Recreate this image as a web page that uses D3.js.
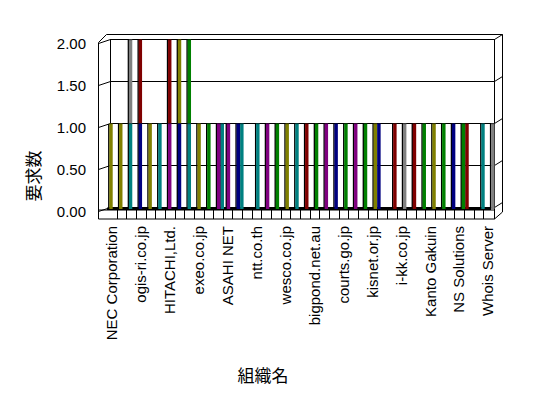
<!DOCTYPE html>
<html><head><meta charset="utf-8">
<script src="https://cdn.jsdelivr.net/npm/d3@7"></script>
<style>
html,body{margin:0;padding:0;background:#fff;}
svg{display:block;}
text{font-family:"Liberation Sans",Arial,sans-serif;fill:#000;}
.cjk{font-family:"Noto Sans CJK JP","Noto Sans",sans-serif;}
</style></head>
<body>
<svg id="chart" width="548" height="398"></svg>
<script>
// ---- data ----
const categories = ["NEC Corporation","","","ogis-ri.co.jp","","","HITACHI,Ltd.","","","exeo.co.jp","","","ASAHI NET","","","ntt.co.th","","","wesco.co.jp","","","bigpond.net.au","","","courts.go.jp","","","kisnet.or.jp","","","i-kk.co.jp","","","Kanto Gakuin","","","NS Solutions","","","Whois Server"];
const yTicks = [0, 0.5, 1, 1.5, 2];
const yTitle = "要求数";
const xTitle = "組織名";
// series keys per bar (index into palette)
const baseValues  = [1,1,1,1,1,1,1,1,1,1,1,1,1,1,0,1,1,1,1,1,1,1,1,1,1,1,1,1,0,1,1,1,1,1,1,1,1,0,1,1];
const baseSeries  = ["olive","olive","teal","navy","olive","teal","purple","navy","teal","olive","green","purple","purple","navy","","teal","purple","green","olive","teal","maroon","green","purple","navy","green","purple","green","olive","","maroon","gray","maroon","green","olive","green","navy","green","","teal","gray"];
const stackValues = [0,0,1,1,0,0,1,1,1,0,0,0,0,0,0,0,0,0,0,0,0,0,0,0,0,0,0,0,0,0,0,0,0,0,0,0,0,0,0,0];
const stackSeries = ["","","gray","maroon","","","maroon","olive","green","","","","","","","","","","","","","","","","","","","","","","","","","","","","","","",""];
const sideValues  = [0,0,0,0,0,0,0,0,0,0,0,1,0,1,0,0,0,0,0,0,0,0,0,0,0,0,0,1,0,0,0,0,0,0,0,0,1,0,0,0];
const sideSeries  = ["","","","","","","","","","","","teal","","teal","","","","","","","","","","","","","","navy","","","","","","","","","maroon","","",""];

// ---- styles ----
const palette = {olive:"#808000", teal:"#008080", navy:"#000080", purple:"#800080", green:"#008000", maroon:"#800000", gray:"#808080"};

const svg = d3.select("#chart");
const idx = d3.range(categories.length);
const y = d3.scaleLinear().domain([0, 2]).range([207.5, 39.5]);
const xCell = d3.scaleBand().domain(idx).range([107, 493]);
const xBar = d3.scalePoint().domain(idx).range([110.5, 492.3]);

const frontL = 98.5, backL = 110.5, frontR = 494.5, backR = 502.5;
const g = svg.append("g").attr("fill","none").attr("stroke","#000").attr("stroke-width",1);

// back wall face + gridlines
g.append("rect").attr("x",backL).attr("y",y(2)).attr("width",frontR-backL).attr("height",y(0)-y(2)).attr("fill","#fff");
yTicks.forEach(t=>{
  g.append("line").attr("x1",backL).attr("x2",frontR).attr("y1",y(t)).attr("y2",y(t));
  // left wall gridline
  g.append("line").attr("x1",frontL).attr("y1",y(t)+4).attr("x2",backL).attr("y2",y(t));
  // right side gridline
  g.append("line").attr("x1",frontR).attr("y1",y(t)).attr("x2",backR).attr("y2",y(t)-5);
});
// outer outline
g.append("path").attr("d",`M${frontL},${y(2)+3}L${frontL+8},${y(2)-5}L${backR},${y(2)-5}L${backR},${y(0)+4.5}L${frontR},${y(0)+11.5}L${frontL},${y(0)+11.5}Z`);
g.append("line").attr("x1",frontR).attr("x2",frontR).attr("y1",y(2)).attr("y2",y(0)+11.5);
g.append("line").attr("x1",backL).attr("x2",backL).attr("y1",y(2)).attr("y2",y(0));

// floor top (dark band) and front face cells
svg.append("rect").attr("x",xCell(0)).attr("y",y(0)).attr("width",xCell.range()[1]-xCell(0)-2).attr("height",2.5).attr("fill","#000");
g.append("line").attr("x1",frontL).attr("x2",frontR).attr("y1",y(0)+2.5).attr("y2",y(0)+2.5);
idx.slice(1).forEach(i=>{
  const xx = Math.round(xCell(i))+0.5;
  g.append("line").attr("x1",xx).attr("x2",xx).attr("y1",y(0)+2.5).attr("y2",y(0)+11.5);
});

// bars
const bars = svg.append("g");
function bar(cx, v0, v1, key){
  const top = y(v1), bot = y(v0)+ (v0===0?1.5:0);
  bars.append("rect").attr("x",cx-2.4).attr("y",top+0.5).attr("width",1.4).attr("height",bot-top-0.5).attr("fill","#000");
  bars.append("rect").attr("x",cx-1.2).attr("y",top).attr("width",3.4).attr("height",bot-top).attr("fill",palette[key]);
  bars.append("rect").attr("x",cx-1.2).attr("y",top).attr("width",3.4).attr("height",0.8).attr("fill","#000").attr("opacity",0.35);
}
idx.forEach(i=>{
  if(sideValues[i]) bar(xBar(i)+3.6, 0, sideValues[i], sideSeries[i]);
});
idx.forEach(i=>{
  if(stackValues[i]) bar(xBar(i), baseValues[i], baseValues[i]+stackValues[i], stackSeries[i]);
  if(baseValues[i]) bar(xBar(i), 0, baseValues[i], baseSeries[i]);
});

// y labels
svg.append("g").selectAll("text").data(yTicks).join("text")
  .attr("x",86).attr("y",t=>y(t)+4).attr("dy","0.35em").attr("text-anchor","end")
  .attr("font-size",15).text(t=>t.toFixed(2));

// x labels
svg.append("g").selectAll("text").data(idx.filter(i=>categories[i]!=="")).join("text")
  .attr("transform",i=>`translate(${xCell(i)+xCell.bandwidth()/2},226) rotate(-90)`)
  .attr("dy","0.35em").attr("text-anchor","end").attr("font-size",15)
  .text(i=>categories[i]);

// titles
svg.append("text").attr("class","cjk").attr("transform","translate(34,176) rotate(-90)")
  .attr("text-anchor","middle").attr("dy","0.35em").attr("font-size",17).text(yTitle);
svg.append("text").attr("class","cjk").attr("x",263).attr("y",376)
  .attr("text-anchor","middle").attr("dy","0.35em").attr("font-size",17).text(xTitle);
</script>
</body></html>
